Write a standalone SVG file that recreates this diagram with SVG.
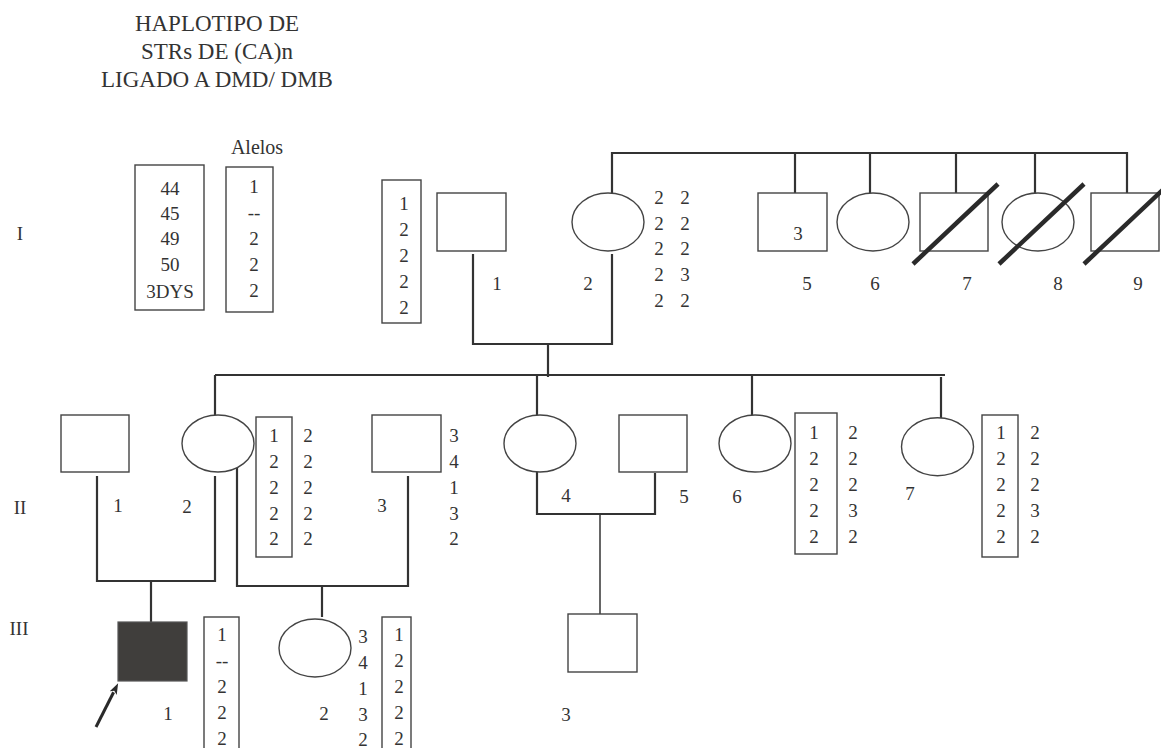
<svg xmlns="http://www.w3.org/2000/svg" width="1161" height="748" viewBox="0 0 1161 748">
<defs>
<style>
text{font-family:"Liberation Serif","Times New Roman",serif;fill:#333;}
.t{font-size:23px;text-anchor:middle;}
.n{font-size:19px;text-anchor:middle;}
.s{fill:#fff;stroke:#444;stroke-width:1.4;}
.b{fill:#fff;stroke:#444;stroke-width:1.4;}
.c{fill:none;stroke:#333;stroke-width:2.2;}
.d{stroke:#2a2a2a;stroke-width:4.5;stroke-linecap:butt;}
.aff{fill:#403e3c;stroke:#555;stroke-width:1.2;}
</style>
<marker id="ah" viewBox="0 0 11 8" refX="1" refY="4" markerWidth="11" markerHeight="8" markerUnits="userSpaceOnUse" orient="auto">
<path d="M0,0 L11,4 L0,8 L2.5,4 z" fill="#2a2a2a"/>
</marker>
</defs>
<rect width="1161" height="748" fill="#fff"/>

<g id="title">
<text class="t" x="217" y="31">HAPLOTIPO DE</text>
<text class="t" x="217" y="59">STRs DE (CA)n</text>
<text class="t" x="217" y="87">LIGADO A DMD/ DMB</text>
</g>

<g id="gen-labels" class="n" style="text-anchor:start">
<text class="n" x="20" y="240" style="text-anchor:middle">I</text>
<text class="n" x="20" y="514" style="text-anchor:middle">II</text>
<text class="n" x="19" y="635" style="text-anchor:middle">III</text>
</g>

<g id="legend">
<text class="n" x="257" y="154" style="font-size:20px">Alelos</text>
<rect class="b" x="135" y="165" width="69" height="145"/>
<text class="n" x="170" y="195">44</text>
<text class="n" x="170" y="220">45</text>
<text class="n" x="170" y="245">49</text>
<text class="n" x="170" y="271">50</text>
<text class="n" x="170" y="298">3DYS</text>
<rect class="b" x="226" y="167" width="47" height="145"/>
<text class="n" x="254" y="193">1</text>
<text class="n" x="254" y="219">--</text>
<text class="n" x="254" y="245">2</text>
<text class="n" x="254" y="271">2</text>
<text class="n" x="254" y="297">2</text>
</g>

<g id="connectors">
<!-- generation I sibship -->
<polyline class="c" points="612,193 612,153 1127,153 1127,193"/>
<line class="c" x1="795" y1="153" x2="795" y2="193"/>
<line class="c" x1="870" y1="153" x2="870" y2="193"/>
<line class="c" x1="956" y1="153" x2="956" y2="193"/>
<line class="c" x1="1035" y1="153" x2="1035" y2="193"/>
<!-- I-1 x I-2 -->
<polyline class="c" points="473,254 473,344 612,344 612,254"/>
<line class="c" x1="548" y1="344" x2="548" y2="377"/>
<!-- generation II sibship -->
<line class="c" x1="215" y1="375" x2="945" y2="375"/>
<line class="c" x1="215" y1="375" x2="215" y2="415"/>
<line class="c" x1="537" y1="375" x2="537" y2="415"/>
<line class="c" x1="752" y1="375" x2="752" y2="415"/>
<line class="c" x1="941" y1="377" x2="941" y2="418"/>
<!-- II-1 x II-2 -->
<polyline class="c" points="97,476 97,581 215,581 215,476"/>
<line class="c" x1="151" y1="581" x2="151" y2="622"/>
<!-- II-2 x II-3 -->
<polyline class="c" points="237,466 237,586 408,586 408,476"/>
<line class="c" x1="322" y1="586" x2="322" y2="617"/>
<!-- II-4 x II-5 -->
<polyline class="c" points="537,472 537,514 655,514 655,473"/>
<line class="c" x1="600" y1="514" x2="600" y2="614" style="stroke-width:1.5"/>
<!-- proband arrow -->
<line x1="96" y1="727" x2="113.6" y2="692.2" stroke="#2a2a2a" stroke-width="3" marker-end="url(#ah)"/>
</g>

<g id="I-1">
<rect class="b" x="382" y="180" width="39" height="143"/>
<text class="n" x="404" y="210">1</text>
<text class="n" x="404" y="236">2</text>
<text class="n" x="404" y="262">2</text>
<text class="n" x="404" y="288">2</text>
<text class="n" x="404" y="314">2</text>
<rect class="s" x="437" y="193" width="69" height="58"/>
<text class="n" x="497" y="290">1</text>
</g>

<g id="I-2">
<ellipse class="s" cx="608" cy="222" rx="36" ry="29"/>
<text class="n" x="588" y="290">2</text>
<text class="n" x="659" y="204">2</text>
<text class="n" x="659" y="230">2</text>
<text class="n" x="659" y="255">2</text>
<text class="n" x="659" y="281">2</text>
<text class="n" x="659" y="307">2</text>
<text class="n" x="685" y="204">2</text>
<text class="n" x="685" y="230">2</text>
<text class="n" x="685" y="255">2</text>
<text class="n" x="685" y="281">3</text>
<text class="n" x="685" y="307">2</text>
</g>

<g id="I-5">
<rect class="s" x="758" y="193" width="69" height="58"/>
<text class="n" x="798" y="240">3</text>
<text class="n" x="807" y="290">5</text>
</g>

<g id="I-6">
<ellipse class="s" cx="873" cy="222" rx="36" ry="29"/>
<text class="n" x="875" y="290">6</text>
</g>

<g id="I-7">
<rect class="s" x="920" y="193" width="68" height="58"/>
<line class="d" x1="913" y1="264" x2="998" y2="184"/>
<text class="n" x="967" y="290">7</text>
</g>

<g id="I-8">
<ellipse class="s" cx="1038" cy="222" rx="36" ry="29"/>
<line class="d" x1="999" y1="264" x2="1084" y2="184"/>
<text class="n" x="1058" y="290">8</text>
</g>

<g id="I-9">
<rect class="s" x="1091" y="193" width="68" height="58"/>
<line class="d" x1="1084" y1="264" x2="1169" y2="184"/>
<text class="n" x="1138" y="290">9</text>
</g>

<g id="II-1">
<rect class="s" x="61" y="415" width="68" height="57"/>
<text class="n" x="118" y="512">1</text>
</g>

<g id="II-2">
<ellipse class="s" cx="218" cy="443.5" rx="36" ry="28.5"/>
<text class="n" x="187" y="513">2</text>
<rect class="b" x="256" y="417" width="36" height="140"/>
<text class="n" x="274" y="442">1</text>
<text class="n" x="274" y="468">2</text>
<text class="n" x="274" y="494">2</text>
<text class="n" x="274" y="520">2</text>
<text class="n" x="274" y="545">2</text>
<text class="n" x="308" y="442">2</text>
<text class="n" x="308" y="468">2</text>
<text class="n" x="308" y="494">2</text>
<text class="n" x="308" y="520">2</text>
<text class="n" x="308" y="545">2</text>
</g>

<g id="II-3">
<rect class="s" x="372" y="415" width="69" height="57"/>
<text class="n" x="382" y="512">3</text>
<text class="n" x="454" y="442">3</text>
<text class="n" x="454" y="468">4</text>
<text class="n" x="454" y="494">1</text>
<text class="n" x="454" y="520">3</text>
<text class="n" x="454" y="545">2</text>
</g>

<g id="II-4">
<ellipse class="s" cx="540" cy="443.5" rx="36" ry="28.5"/>
<text class="n" x="566" y="502">4</text>
</g>

<g id="II-5">
<rect class="s" x="619" y="415" width="68" height="57"/>
<text class="n" x="684" y="503">5</text>
</g>

<g id="II-6">
<ellipse class="s" cx="755" cy="443.5" rx="36" ry="28.5"/>
<text class="n" x="737" y="503">6</text>
<rect class="b" x="795" y="413" width="42" height="141"/>
<text class="n" x="814" y="439">1</text>
<text class="n" x="814" y="465">2</text>
<text class="n" x="814" y="491">2</text>
<text class="n" x="814" y="517">2</text>
<text class="n" x="814" y="543">2</text>
<text class="n" x="853" y="439">2</text>
<text class="n" x="853" y="465">2</text>
<text class="n" x="853" y="491">2</text>
<text class="n" x="853" y="517">3</text>
<text class="n" x="853" y="543">2</text>
</g>

<g id="II-7">
<ellipse class="s" cx="937.5" cy="446.7" rx="36" ry="29"/>
<text class="n" x="910" y="500">7</text>
<rect class="b" x="982" y="415" width="36" height="142"/>
<text class="n" x="1001" y="439">1</text>
<text class="n" x="1001" y="465">2</text>
<text class="n" x="1001" y="491">2</text>
<text class="n" x="1001" y="517">2</text>
<text class="n" x="1001" y="543">2</text>
<text class="n" x="1035" y="439">2</text>
<text class="n" x="1035" y="465">2</text>
<text class="n" x="1035" y="491">2</text>
<text class="n" x="1035" y="517">3</text>
<text class="n" x="1035" y="543">2</text>
</g>

<g id="III-1">
<rect class="aff" x="118" y="622" width="69" height="59"/>
<text class="n" x="168" y="720">1</text>
<rect class="b" x="204" y="617" width="35" height="150"/>
<text class="n" x="222" y="641">1</text>
<text class="n" x="222" y="667">--</text>
<text class="n" x="222" y="693">2</text>
<text class="n" x="222" y="719">2</text>
<text class="n" x="222" y="745">2</text>
</g>

<g id="III-2">
<ellipse class="s" cx="315" cy="648" rx="36" ry="29"/>
<text class="n" x="324" y="720">2</text>
<text class="n" x="363" y="643">3</text>
<text class="n" x="363" y="669">4</text>
<text class="n" x="363" y="695">1</text>
<text class="n" x="363" y="721">3</text>
<text class="n" x="363" y="746">2</text>
<rect class="b" x="382" y="617" width="29" height="150"/>
<text class="n" x="399" y="641">1</text>
<text class="n" x="399" y="667">2</text>
<text class="n" x="399" y="693">2</text>
<text class="n" x="399" y="719">2</text>
<text class="n" x="399" y="745">2</text>
</g>

<g id="III-3">
<rect class="s" x="568" y="614" width="69" height="58"/>
<text class="n" x="566" y="721">3</text>
</g>
</svg>
